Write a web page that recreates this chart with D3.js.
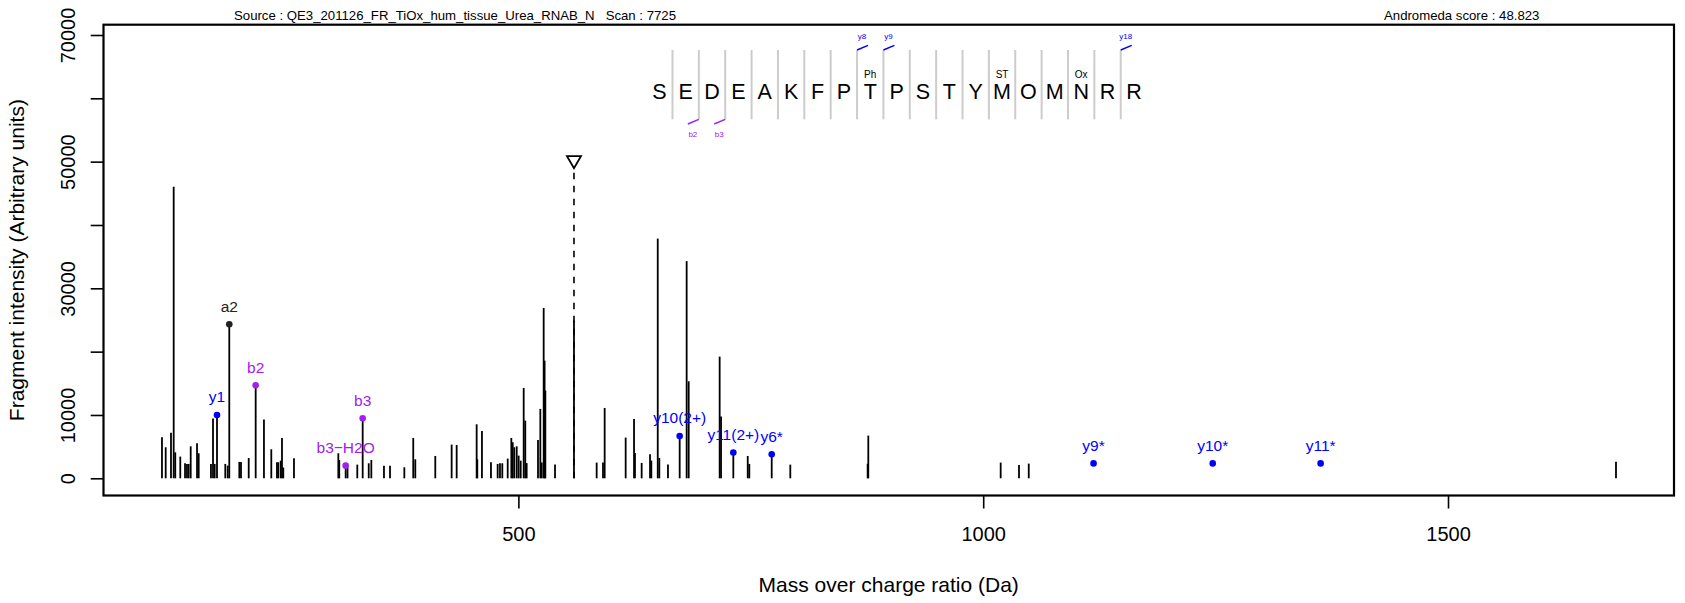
<!DOCTYPE html>
<html>
<head>
<meta charset="utf-8">
<script src="https://cdn.jsdelivr.net/npm/d3@7"></script>
<style>
  body { margin: 0; background: #fff; }
  svg { font-family: "Liberation Sans", Arial, sans-serif; }
</style>
</head>
<body>
<svg id="chart"></svg>
<script>
const width = 1685;
const height = 603;

// peak list (m/z, intensity)
const peakMz = [
  116.6, 120.6, 126.3, 129.2, 130.9, 136.3, 141.4, 143.5, 145.3, 147.5,
  154.3, 156.1, 169.3, 171.5, 173.3, 175.8, 184.7, 187.3, 189.0, 199.8,
  201.6, 209.9, 217.4, 226.3, 234.2, 240.3, 241.7, 244.3, 245.7, 247.1,
  258.6, 306.3, 307.3, 314.2, 316.2, 326.7, 332.5, 339.0, 341.8, 355.4,
  361.9, 377.3, 386.9, 389.1, 410.6, 428.2, 433.6, 455.1, 455.8, 460.8,
  470.5, 477.7, 480.2, 482.7, 488.5, 492.4, 493.9, 495.6, 498.2, 500.3,
  502.5, 505.7, 507.4, 508.9, 521.1, 523.6, 525.1, 527.2, 528.2, 529.0,
  539.4, 559.8, 584.2, 591.0, 592.8, 615.4, 624.4, 625.4, 632.6, 641.6,
  643.0, 649.9, 651.6, 660.9, 673.5, 681.0, 683.2, 716.5, 718.0, 731.2,
  746.7, 748.4, 772.5, 792.5, 875.7, 876.4, 1018.8, 1038.5, 1049.0, 1680.7
];
const peakInt = [
  6470, 4900, 7200, 46040, 4100, 3430, 2370, 2270, 2270, 5050,
  5530, 3950, 2270, 9430, 2270, 10000, 2270, 2000, 24320, 2590,
  2590, 3210, 14690, 9270, 4590, 2530, 2530, 2790, 6370, 1700,
  3160, 3950, 2890, 2000, 1700, 2160, 9480, 2370, 2900, 2000,
  2000, 1740, 6370, 3000, 3530, 5320, 5270, 8530, 3000, 7480,
  2530, 2270, 2370, 2370, 3110, 6370, 5690, 4900, 5050, 3580,
  2790, 14270, 9110, 2400, 6060, 10960, 2500, 26900, 18580, 13850,
  2160, 24900, 2480, 2480, 11110, 6430, 9380, 4000, 2430, 3790,
  2800, 37850, 3200, 2160, 6690, 34300, 15320, 19220, 9740, 4060,
  3530, 2270, 3790, 2160, 2300, 6740, 2480, 2110, 2320, 2620
];

// annotated fragment ions
const ionLabel = ["y1", "a2", "b2", "b3\u2212H2O", "b3", "y10(2+)", "y11(2+)", "y6*", "y9*", "y10*", "y11*"];
const ionType = ["y", "a", "b", "b", "b", "y", "y", "y", "y", "y", "y"];
const ionMz = [175.8, 189.0, 217.4, 314.2, 332.5, 673.5, 731.2, 772.5, 1118.7, 1246.9, 1363.0];
const ionInt = [10000, 24320, 14690, 2000, 9480, 6690, 4060, 3790, 2350, 2350, 2350];

// precursor
const precursorMz = 559.8;
const precursorInt = 50000;

// peptide sequence header
const residues = ["S", "E", "D", "E", "A", "K", "F", "P", "T", "P", "S", "T", "Y", "M", "O", "M", "N", "R", "R"];
const modPos = [9, 14, 17];
const modLabel = ["Ph", "ST", "Ox"];
const yCutAfter = [8, 9, 18];
const yCutLabel = ["y8", "y9", "y18"];
const bCutAfter = [2, 3];
const bCutLabel = ["b2", "b3"];

const yTicks = [0, 10000, 20000, 30000, 40000, 50000, 60000, 70000];
const yTickLabels = [0, 10000, 30000, 50000, 70000];
const xTicks = [500, 1000, 1500];

const sourceText = "Source : QE3_201126_FR_TiOx_hum_tissue_Urea_RNAB_N   Scan : 7725";
const scoreText = "Andromeda score : 48.823";

const ionColor = { y: "#0000ff", b: "#a020f0", a: "#222222" };

const plot = { left: 103.5, right: 1674, top: 24.7, bottom: 495.5 };

const svg = d3.select("#chart").attr("width", width).attr("height", height);

const x = d3.scaleLinear().domain([53.7, 1743.1]).range([plot.left, plot.right]);
const y = d3.scaleLinear().domain([-2716, 71626]).range([plot.bottom, plot.top]);

// peaks
svg.append("g")
  .selectAll("line")
  .data(peakMz.map((m, i) => [m, peakInt[i]]))
  .enter()
  .append("line")
  .attr("x1", (d) => x(d[0]))
  .attr("x2", (d) => x(d[0]))
  .attr("y1", y(0))
  .attr("y2", (d) => y(d[1]))
  .attr("stroke", "#000")
  .attr("stroke-width", 1.8);

// precursor marker
svg.append("line")
  .attr("x1", x(precursorMz))
  .attr("x2", x(precursorMz))
  .attr("y1", y(0))
  .attr("y2", y(precursorInt) + 6)
  .attr("stroke", "#000")
  .attr("stroke-width", 1.6)
  .attr("stroke-dasharray", "6.5,6.5");

const px = x(precursorMz);
const py = y(precursorInt);
svg.append("path")
  .attr("d", `M${px - 7},${py - 5.5} L${px + 7},${py - 5.5} L${px},${py + 6.5} Z`)
  .attr("fill", "none")
  .attr("stroke", "#000")
  .attr("stroke-width", 1.8);

// annotated ions
const ions = ionMz.map((m, i) => ({ mz: m, int: ionInt[i], label: ionLabel[i], type: ionType[i] }));

svg.append("g")
  .selectAll("circle")
  .data(ions)
  .enter()
  .append("circle")
  .attr("cx", (d) => x(d.mz))
  .attr("cy", (d) => y(d.int))
  .attr("r", 3.3)
  .attr("fill", (d) => ionColor[d.type]);

svg.append("g")
  .selectAll("text")
  .data(ions)
  .enter()
  .append("text")
  .attr("x", (d) => x(d.mz))
  .attr("y", (d) => y(d.int) - 12.6)
  .attr("text-anchor", "middle")
  .attr("font-size", 15.5)
  .attr("fill", (d) => ionColor[d.type])
  .text((d) => d.label);

// box
svg.append("rect")
  .attr("x", plot.left)
  .attr("y", plot.top)
  .attr("width", plot.right - plot.left)
  .attr("height", plot.bottom - plot.top)
  .attr("fill", "none")
  .attr("stroke", "#000")
  .attr("stroke-width", 2.2);

// axes
const yAxis = d3.axisLeft(y)
  .tickValues(yTicks)
  .tickSize(12.8)
  .tickFormat((d) => (yTickLabels.includes(d) ? d : ""));

const gy = svg.append("g")
  .attr("transform", `translate(${plot.left},0)`)
  .call(yAxis);
gy.select(".domain").remove();
gy.selectAll(".tick line").attr("stroke-width", 1.6);
gy.selectAll(".tick text")
  .attr("x", 0)
  .attr("y", -29)
  .attr("dy", 0)
  .attr("text-anchor", "middle")
  .attr("transform", "rotate(-90)")
  .attr("font-size", 20)
  .attr("font-family", null)
  .attr("fill", "#000");

const xAxis = d3.axisBottom(x).tickValues(xTicks).tickSize(13).tickFormat(d3.format("d"));
const gx = svg.append("g")
  .attr("transform", `translate(0,${plot.bottom})`)
  .call(xAxis);
gx.select(".domain").remove();
gx.selectAll(".tick line").attr("stroke-width", 1.6);
gx.selectAll(".tick text")
  .attr("y", 45.5)
  .attr("dy", 0)
  .attr("font-size", 20)
  .attr("font-family", null)
  .attr("fill", "#000");

// axis titles
svg.append("text")
  .attr("x", (plot.left + plot.right) / 2)
  .attr("y", 591.5)
  .attr("text-anchor", "middle")
  .attr("font-size", 21)
  .text("Mass over charge ratio (Da)");

svg.append("text")
  .attr("transform", `translate(24,${(plot.top + plot.bottom) / 2}) rotate(-90)`)
  .attr("text-anchor", "middle")
  .attr("font-size", 21)
  .text("Fragment intensity (Arbitrary units)");

// header texts
svg.append("text")
  .attr("x", 234)
  .attr("y", 20)
  .attr("font-size", 13.2)
  .attr("xml:space", "preserve")
  .style("white-space", "pre")
  .text(sourceText);

svg.append("text")
  .attr("x", 1384)
  .attr("y", 20)
  .attr("font-size", 13.2)
  .text(scoreText);

// sequence header
const seq = d3.scalePoint()
  .domain(d3.range(residues.length))
  .range([659.3, 1133.9]);
const step = seq.step();
const cutX = (after) => seq(after - 1) + step / 2;
const seqTop = 50;
const seqBottom = 119.3;

const gs = svg.append("g");

gs.selectAll("line.sep")
  .data(d3.range(1, residues.length))
  .enter()
  .append("line")
  .attr("class", "sep")
  .attr("x1", (d) => cutX(d))
  .attr("x2", (d) => cutX(d))
  .attr("y1", seqTop)
  .attr("y2", seqBottom)
  .attr("stroke", "#cccccc")
  .attr("stroke-width", 2);

gs.selectAll("text.res")
  .data(residues)
  .enter()
  .append("text")
  .attr("class", "res")
  .attr("x", (d, i) => seq(i))
  .attr("y", 99.3)
  .attr("text-anchor", "middle")
  .attr("font-size", 21.5)
  .text((d) => d);

gs.selectAll("text.mod")
  .data(modPos)
  .enter()
  .append("text")
  .attr("class", "mod")
  .attr("x", (d) => seq(d - 1))
  .attr("y", 77.5)
  .attr("text-anchor", "middle")
  .attr("font-size", 10)
  .text((d, i) => modLabel[i]);

yCutAfter.forEach((a, i) => {
  const cx = cutX(a);
  gs.append("line")
    .attr("x1", cx).attr("y1", seqTop)
    .attr("x2", cx + 11).attr("y2", seqTop - 4.7)
    .attr("stroke", ionColor.y).attr("stroke-width", 1.4);
  gs.append("text")
    .attr("x", cx + 5).attr("y", 38.5)
    .attr("text-anchor", "middle").attr("font-size", 8)
    .attr("fill", ionColor.y)
    .text(yCutLabel[i]);
});

bCutAfter.forEach((a, i) => {
  const cx = cutX(a);
  gs.append("line")
    .attr("x1", cx).attr("y1", seqBottom)
    .attr("x2", cx - 11).attr("y2", seqBottom + 4.7)
    .attr("stroke", ionColor.b).attr("stroke-width", 1.4);
  gs.append("text")
    .attr("x", cx - 6).attr("y", 137)
    .attr("text-anchor", "middle").attr("font-size", 8)
    .attr("fill", ionColor.b)
    .text(bCutLabel[i]);
});
</script>
</body>
</html>
